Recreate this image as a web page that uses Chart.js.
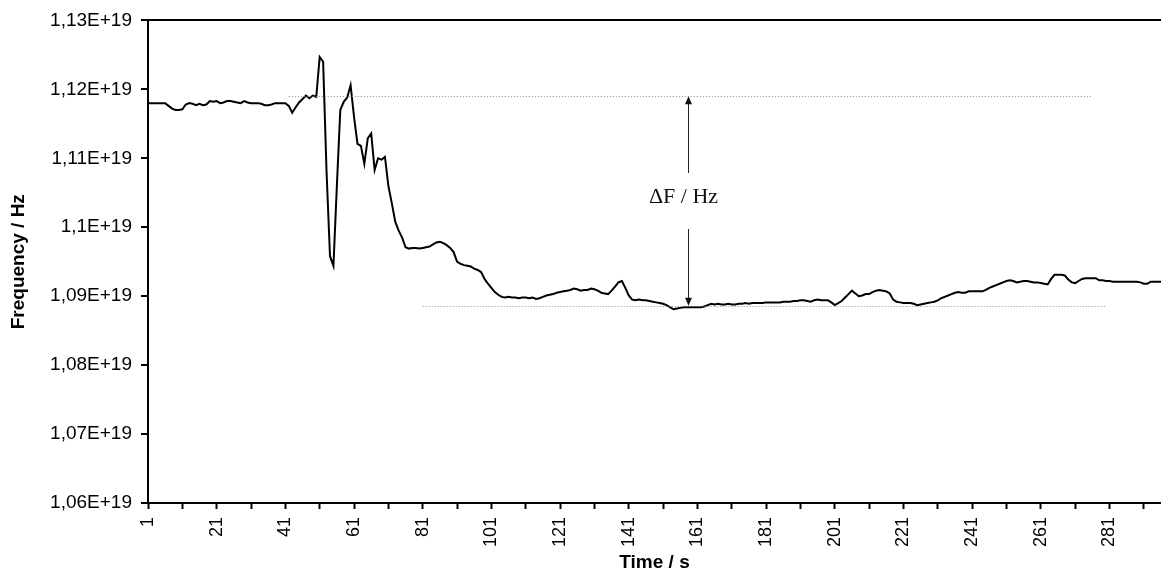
<!DOCTYPE html>
<html>
<head>
<meta charset="utf-8">
<script src="https://cdn.jsdelivr.net/npm/chart.js@4.4.1/dist/chart.umd.min.js"></script>
<style>
    html, body { margin: 0; padding: 0; background: #fff; }
    .chart-wrapper { width: 1161px; height: 580px; position: relative; }
</style>
</head>
<body>
<div class="chart-wrapper"><canvas id="freq-chart"></canvas></div>
<script>
// frequency readings, in units of 1E+19 Hz, one per second (t = 1 .. 296)
const freqValues = [
    1.1180, 1.1180, 1.1180, 1.1180, 1.1180, 1.1180, 1.1176, 1.1172, 1.1170, 1.1170,
    1.1171, 1.1178, 1.1180, 1.1179, 1.1177, 1.1179, 1.1177, 1.1178, 1.1183, 1.1182,
    1.1183, 1.1180, 1.1181, 1.1183, 1.1183, 1.1182, 1.1181, 1.1180, 1.1183, 1.1181,
    1.1180, 1.1180, 1.1180, 1.1179, 1.1177, 1.1177, 1.1178, 1.1180, 1.1180, 1.1180,
    1.1180, 1.1176, 1.1166, 1.1174, 1.1181, 1.1186, 1.1191, 1.1187, 1.1191, 1.1189,
    1.1247, 1.1240, 1.1080, 1.0958, 1.0944, 1.1060, 1.1170, 1.1182, 1.1188, 1.1206,
    1.1160, 1.1121, 1.1118, 1.1092, 1.1129, 1.1136, 1.1083, 1.1100, 1.1098, 1.1102,
    1.1060, 1.1035, 1.1008, 1.0995, 1.0985, 1.0971, 1.0969, 1.0970, 1.0970, 1.0969,
    1.0970, 1.0971, 1.0972, 1.0975, 1.0978, 1.0979, 1.0977, 1.0974, 1.0970, 1.0964,
    1.0950, 1.0947, 1.0945, 1.0944, 1.0943, 1.0940, 1.0938, 1.0935, 1.0925, 1.0918,
    1.0912, 1.0906, 1.0902, 1.0899, 1.0898, 1.0899, 1.0898, 1.0898, 1.0897, 1.0898,
    1.0898, 1.0897, 1.0898, 1.0896, 1.0897, 1.0899, 1.0901, 1.0902, 1.0903, 1.0905,
    1.0906, 1.0907, 1.0908, 1.0909, 1.0911, 1.0910, 1.0908, 1.0909, 1.0909, 1.0911,
    1.0910, 1.0908, 1.0905, 1.0904, 1.0903, 1.0908, 1.0914, 1.0920, 1.0922, 1.0912,
    1.0901, 1.0895, 1.0894, 1.0895, 1.0894, 1.0894, 1.0893, 1.0892, 1.0891, 1.0890,
    1.0889, 1.0887, 1.0884, 1.0881, 1.0882, 1.0883, 1.0884, 1.0884, 1.0884, 1.0884,
    1.0884, 1.0884, 1.0885, 1.0887, 1.0889, 1.0888, 1.0889, 1.0888, 1.0888, 1.0889,
    1.0888, 1.0888, 1.0889, 1.0889, 1.0890, 1.0889, 1.0890, 1.0890, 1.0890, 1.0890,
    1.0891, 1.0891, 1.0891, 1.0891, 1.0891, 1.0892, 1.0892, 1.0892, 1.0893, 1.0893,
    1.0894, 1.0894, 1.0893, 1.0892, 1.0894, 1.0895, 1.0894, 1.0894, 1.0894, 1.0891,
    1.0887, 1.0890, 1.0893, 1.0898, 1.0903, 1.0908, 1.0904, 1.0900, 1.0901, 1.0903,
    1.0903, 1.0906, 1.0908, 1.0909, 1.0908, 1.0907, 1.0904, 1.0895, 1.0892, 1.0891,
    1.0890, 1.0890, 1.0890, 1.0889, 1.0887, 1.0888, 1.0889, 1.0890, 1.0891, 1.0892,
    1.0894, 1.0897, 1.0899, 1.0901, 1.0903, 1.0905, 1.0906, 1.0905, 1.0905, 1.0907,
    1.0907, 1.0907, 1.0907, 1.0907, 1.0909, 1.0912, 1.0914, 1.0916, 1.0918, 1.0920,
    1.0922, 1.0923, 1.0922, 1.0920, 1.0921, 1.0922, 1.0922, 1.0921, 1.0920, 1.0920,
    1.0919, 1.0918, 1.0917, 1.0925, 1.0931, 1.0931, 1.0931, 1.0930, 1.0924, 1.0920,
    1.0919, 1.0922, 1.0925, 1.0926, 1.0926, 1.0926, 1.0926, 1.0923, 1.0923, 1.0922,
    1.0922, 1.0921, 1.0921, 1.0921, 1.0921, 1.0921, 1.0921, 1.0921, 1.0921, 1.0920,
    1.0918, 1.0918, 1.0921, 1.0921, 1.0921, 1.0921
];

// category labels: seconds 1 .. 296
const timeLabels = Array.from({ length: freqValues.length }, (_, i) => String(i + 1));

// y axis range (1E+19 Hz)
const yMin = 1.06;
const yMax = 1.13;
const yStep = 0.01;

// dotted guide lines: value and first/last category index
const guideLines = [
    { value: 1.1190, from: 41, to: 275 },
    { value: 1.0886, from: 80, to: 279 }
];

// the ΔF arrow: category index and the two levels it spans
const deltaArrow = { index: 157.4, top: 1.1190, bottom: 1.0886, text: 'ΔF / Hz' };

const axisFont = { family: 'Liberation Sans, Arial, sans-serif', size: 19 };
const titleFont = { family: 'Liberation Sans, Arial, sans-serif', size: 19, weight: 'bold' };

function formatExp(v) {
    // Excel style: 1,13E+19 ; 1,1E+19
    let r = Math.round(v * 100) / 100;
    return String(r).replace('.', ',') + 'E+19';
}

const deltaPlugin = {
    id: 'deltaF',
    afterDatasetsDraw(chart) {
        const ctx = chart.ctx;
        const xs = chart.scales.x;
        const ys = chart.scales.y;

        ctx.save();
        // dotted guides
        ctx.strokeStyle = '#8a8a8a';
        ctx.lineWidth = 1;
        ctx.setLineDash([1, 2]);
        guideLines.forEach(g => {
            const py = Math.round(ys.getPixelForValue(g.value)) + 0.5;
            ctx.beginPath();
            ctx.moveTo(xs.getPixelForValue(g.from), py);
            ctx.lineTo(xs.getPixelForValue(g.to), py);
            ctx.stroke();
        });
        ctx.setLineDash([]);

        // arrow
        const ax = Math.round(xs.getPixelForValue(deltaArrow.index)) + 0.5;
        const yTop = ys.getPixelForValue(deltaArrow.top);
        const yBot = ys.getPixelForValue(deltaArrow.bottom);
        const yText = (yTop + yBot) / 2 - 4;

        ctx.strokeStyle = '#222';
        ctx.fillStyle = '#111';
        ctx.lineWidth = 1;
        ctx.beginPath();
        ctx.moveTo(ax, yTop + 6);
        ctx.lineTo(ax, yText - 24);
        ctx.moveTo(ax, yText + 32);
        ctx.lineTo(ax, yBot - 6);
        ctx.stroke();

        // heads
        ctx.beginPath();
        ctx.moveTo(ax, yTop);
        ctx.lineTo(ax - 3.5, yTop + 8);
        ctx.lineTo(ax + 3.5, yTop + 8);
        ctx.closePath();
        ctx.fill();
        ctx.beginPath();
        ctx.moveTo(ax, yBot);
        ctx.lineTo(ax - 3.5, yBot - 8);
        ctx.lineTo(ax + 3.5, yBot - 8);
        ctx.closePath();
        ctx.fill();

        // label
        ctx.font = '22px "Liberation Serif", "Times New Roman", serif';
        ctx.textAlign = 'center';
        ctx.textBaseline = 'middle';
        ctx.fillText(deltaArrow.text, ax - 5, yText);
        ctx.restore();
    }
};

new Chart(document.getElementById('freq-chart'), {
    type: 'line',
    data: {
        labels: timeLabels,
        datasets: [{
            data: freqValues,
            borderColor: '#000',
            borderWidth: 2,
            pointRadius: 0,
            tension: 0,
            fill: false
        }]
    },
    options: {
        responsive: true,
        maintainAspectRatio: false,
        animation: false,
        layout: { padding: { top: 20, right: 0, left: 0, bottom: 0 } },
        plugins: {
            legend: { display: false },
            tooltip: { enabled: false }
        },
        scales: {
            x: {
                type: 'category',
                offset: false,
                border: { display: true, color: '#000', width: 2 },
                grid: {
                    drawOnChartArea: false,
                    drawTicks: true,
                    tickLength: 6,
                    tickWidth: 2,
                    tickColor: c => (c.index % 10 === 0 ? '#000' : 'rgba(0,0,0,0)')
                },
                ticks: {
                    autoSkip: false,
                    minRotation: 90,
                    maxRotation: 90,
                    padding: 8,
                    color: '#000',
                    font: { family: axisFont.family, size: 18 },
                    callback: function (val, index) {
                        return index % 20 === 0 ? this.getLabelForValue(val) : '';
                    }
                },
                title: {
                    display: true,
                    text: 'Time / s',
                    color: '#000',
                    font: titleFont,
                    padding: { top: 0, bottom: 6 }
                },
                afterFit: s => {
                    s.height = 77;
                    s.paddingLeft = 0;
                    s.paddingRight = 0;
                }
            },
            y: {
                min: yMin,
                max: yMax,
                border: { display: true, color: '#000', width: 2 },
                grid: {
                    drawOnChartArea: true,
                    tickLength: 7,
                    tickWidth: 2,
                    lineWidth: 2,
                    color: c => (c.index === 7 ? '#000' : 'rgba(0,0,0,0)'),
                    tickColor: '#000'
                },
                ticks: {
                    stepSize: yStep,
                    padding: 9,
                    color: '#000',
                    font: axisFont,
                    callback: v => formatExp(v)
                },
                title: {
                    display: true,
                    text: 'Frequency / Hz',
                    color: '#000',
                    font: titleFont,
                    padding: { top: 7, bottom: 0 }
                },
                afterFit: s => { s.width = 148; }
            }
        }
    },
    plugins: [deltaPlugin]
});
</script>
</body>
</html>
